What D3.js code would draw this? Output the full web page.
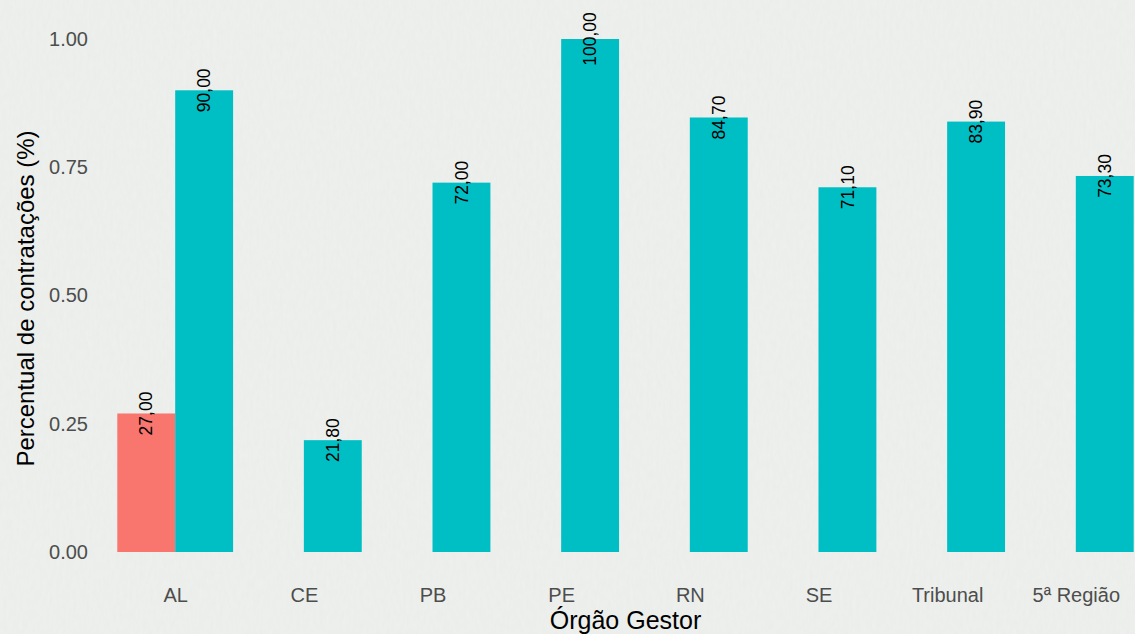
<!DOCTYPE html>
<html>
<head>
<meta charset="utf-8">
<script src="https://cdn.jsdelivr.net/npm/d3@7"></script>
<style>
  body { margin: 0; background: #eaedea; }
  text { font-family: "Liberation Sans", Arial, sans-serif; }
</style>
</head>
<body>
<svg id="chart"></svg>
<script>
// dados
const categorias = ["AL", "CE", "PB", "PE", "RN", "SE", "Tribunal", "5ª Região"];
const serieA = [0.27, null, null, null, null, null, null, null];      // vermelho
const serieB = [0.90, 0.218, 0.72, 1.00, 0.847, 0.711, 0.839, 0.733]; // azul
const yTicks = [0, 0.25, 0.5, 0.75, 1.0];

const W = 1135, H = 634;
const margin = {top: 39, bottom: 82, left: 98, right: -18};
const width = W - margin.left - margin.right,
      height = H - margin.top - margin.bottom;

const svg = d3.select("#chart").attr("width", W).attr("height", H);

// fundo tipo papel
const defs = svg.append("defs");
const f = defs.append("filter").attr("id", "paper").attr("x", 0).attr("y", 0).attr("width", "100%").attr("height", "100%");
f.append("feTurbulence").attr("type", "fractalNoise").attr("baseFrequency", "0.3 0.1").attr("numOctaves", 3).attr("seed", 4);
f.append("feColorMatrix").attr("values", "0 0 0 0 0.7  0 0 0 0 0.72  0 0 0 0 0.68  0 0 0 0.22 -0.03");
svg.append("rect").attr("width", W).attr("height", H).attr("fill", "#edf0ed");
svg.append("rect").attr("width", W).attr("height", H).attr("filter", "url(#paper)");

const chart = svg.append("g").attr("transform", "translate(" + margin.left + "," + margin.top + ")");

// escalas - ggplot: expansao de 0.6 unidades de cada lado, largura 0.9
const n = categorias.length;
const step = width / (n - 1 + 1.2);
const xc = i => step * (0.6 + i);
const barW = step * 0.45;

const y = d3.scaleLinear().domain([0, 1]).range([height, 0]);

// eixo y
const yAxis = d3.axisLeft(y).tickValues(yTicks).tickFormat(d3.format(".2f")).tickSize(0).tickPadding(10);
chart.append("g").call(yAxis)
  .call(g => g.select(".domain").remove())
  .selectAll("text").attr("font-size", 20).attr("fill", "#4d4d4d").attr("font-family", "Liberation Sans, Arial, sans-serif");

// eixo x
const xs = d3.scalePoint().domain(categorias).range([xc(0), xc(n - 1)]);
const xAxis = d3.axisBottom(xs).tickSize(0).tickPadding(36);
chart.append("g").attr("transform", "translate(0," + height + ")").call(xAxis)
  .call(g => g.select(".domain").remove())
  .selectAll("text").attr("font-size", 20).attr("fill", "#4d4d4d").attr("font-family", "Liberation Sans, Arial, sans-serif");

// barras
const fmt = v => d3.format(".2f")(v * 100).replace(".", ",");

const dadosA = serieA.map((v, i) => ({i, v})).filter(d => d.v != null);
const dadosB = serieB.map((v, i) => ({i, v}));

chart.selectAll(".barA").data(dadosA).enter().append("rect")
  .attr("x", d => xc(d.i) - barW).attr("width", barW)
  .attr("y", d => y(d.v)).attr("height", d => height - y(d.v))
  .attr("fill", "#F8766D");

chart.selectAll(".barB").data(dadosB).enter().append("rect")
  .attr("x", d => xc(d.i)).attr("width", barW)
  .attr("y", d => y(d.v)).attr("height", d => height - y(d.v))
  .attr("fill", "#00BFC4");

// rotulos
const lab = (d, off) => chart.append("text")
  .attr("transform", "translate(" + (xc(d.i) + off) + "," + y(d.v) + ") rotate(-90)")
  .attr("text-anchor", "middle").attr("dy", "0.35em")
  .attr("font-size", 17.5).attr("fill", "#000").text(fmt(d.v));
dadosA.forEach(d => lab(d, -barW / 2));
dadosB.forEach(d => lab(d, barW / 2));

// titulos
svg.append("text").attr("x", margin.left + xc((n - 1) / 2)).attr("y", 629)
  .attr("text-anchor", "middle").attr("font-size", 25).attr("fill", "#000").text("Órgão Gestor");
svg.append("text").attr("transform", "translate(34," + (margin.top + height / 2 + 3) + ") rotate(-90)")
  .attr("text-anchor", "middle").attr("font-size", 24).attr("fill", "#000").text("Percentual de contratações (%)");
</script>
</body>
</html>
